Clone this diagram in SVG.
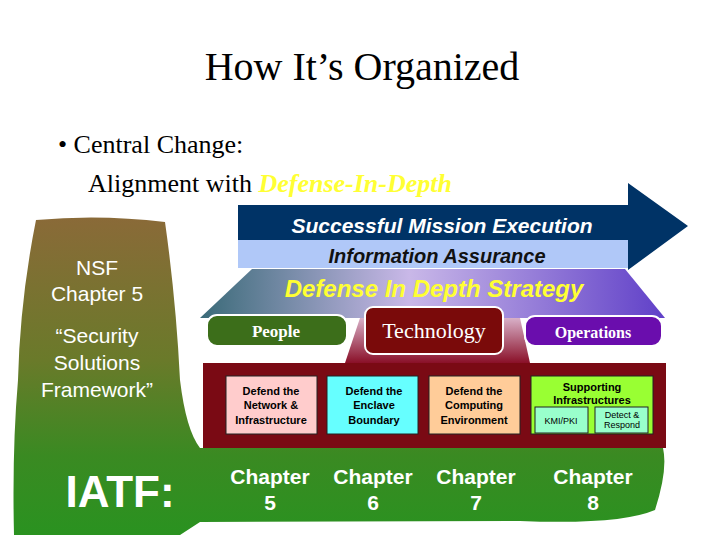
<svg xmlns="http://www.w3.org/2000/svg" width="720" height="540" viewBox="0 0 720 540">
<defs>
<linearGradient id="lg" x1="0" y1="0" x2="0" y2="1"><stop offset="0" stop-color="#8a6a38"/><stop offset="0.45" stop-color="#6a7a2a"/><stop offset="0.75" stop-color="#3a8a22"/><stop offset="1" stop-color="#2a9220"/></linearGradient>
<linearGradient id="tg" x1="0" y1="0" x2="1" y2="0"><stop offset="0" stop-color="#3a6a78"/><stop offset="0.45" stop-color="#c9b8e8"/><stop offset="1" stop-color="#6040c8"/></linearGradient>
<linearGradient id="mg" x1="0" y1="0" x2="0" y2="1"><stop offset="0" stop-color="#d8b0c8"/><stop offset="1" stop-color="#8a1028"/></linearGradient>
</defs>
<style>
.s{font-family:"Liberation Serif",serif}
.a{font-family:"Liberation Sans",Arial,sans-serif}
.w{fill:#fff}
.b{font-family:"Liberation Sans",Arial,sans-serif;font-weight:bold;font-size:11px;text-anchor:middle;fill:#000}
.ib{stroke:#222;stroke-width:1}
</style>
<rect width="720" height="540" fill="#fff"/>
<text class="s" x="362" y="80" font-size="40" text-anchor="middle">How It’s Organized</text>
<text class="s" x="58" y="153" font-size="26">• Central Change:</text>
<text class="s" x="88" y="192" font-size="26">Alignment with <tspan fill="#ffff33" font-style="italic" font-weight="bold">Defense-In-Depth</tspan></text>
<g id="left">
<path d="M36,220 Q100,214 165,222 Q176,300 180,380 Q186,430 200,448 L663,448 Q668,470 655,510 Q620,525 520,521 L200,522 L180,535 L14,535 Q12,450 18,380 Q20,300 36,220 Z" fill="url(#lg)"/>
<text class="a w" x="97" y="275" font-size="21" text-anchor="middle">NSF</text>
<text class="a w" x="97" y="301" font-size="21" text-anchor="middle">Chapter 5</text>
<text class="a w" x="97" y="343" font-size="21" text-anchor="middle">“Security</text>
<text class="a w" x="97" y="370" font-size="21" text-anchor="middle">Solutions</text>
<text class="a w" x="97" y="397" font-size="21" text-anchor="middle">Framework”</text>
<text class="a w" x="120" y="507" font-size="44" font-weight="bold" text-anchor="middle">IATF:</text>
</g>
<g id="arrow">
<path d="M238,205 L628,205 L628,183 L688,226 L628,270 L628,240 L238,240 Z" fill="#003366"/>
<rect x="238" y="240" width="390" height="28" fill="#b0c8f8"/>
<text class="a w" x="442" y="233" font-size="21" font-weight="bold" font-style="italic" text-anchor="middle">Successful Mission Execution</text>
<text class="a" x="437" y="263" font-size="20" font-weight="bold" font-style="italic" text-anchor="middle" fill="#111">Information Assurance</text>
</g>
<g id="strategy">
<path d="M252,269 L625,269 L665,318 L200,318 Z" fill="url(#tg)"/>
<path d="M360,318 L520,318 L530,363 L345,363 Z" fill="url(#mg)"/>
<text class="a" x="434" y="297" font-size="24" font-weight="bold" font-style="italic" text-anchor="middle" fill="#ffff33">Defense In Depth Strategy</text>
</g>
<g id="people"><rect x="207" y="315" width="140" height="31" rx="10" fill="#3c6e1a" stroke="#fff" stroke-width="2"/><text class="s w" x="276" y="337" font-size="17" font-weight="bold" text-anchor="middle">People</text></g>
<g id="technology"><rect x="365" y="307" width="138" height="47" rx="8" fill="#7a0a0a" stroke="#fff" stroke-width="2"/><text class="s w" x="434" y="338" font-size="22" text-anchor="middle">Technology</text></g>
<g id="operations"><rect x="525" y="316" width="137" height="30" rx="10" fill="#6a0dad" stroke="#fff" stroke-width="2"/><text class="s w" x="593" y="338" font-size="16" font-weight="bold" text-anchor="middle">Operations</text></g>
<g id="techbox">
<rect x="203" y="363" width="463" height="85" fill="#7a0a14"/>
<rect class="ib" x="226" y="376" width="91" height="58" fill="#ffcccc"/>
<text class="b" x="271" y="395">Defend the</text><text class="b" x="271" y="409">Network &amp;</text><text class="b" x="271" y="424">Infrastructure</text>
<rect class="ib" x="327" y="376" width="91" height="58" fill="#66ffff"/>
<text class="b" x="374" y="395">Defend the</text><text class="b" x="374" y="409">Enclave</text><text class="b" x="374" y="424">Boundary</text>
<rect class="ib" x="429" y="376" width="91" height="58" fill="#ffcc99"/>
<text class="b" x="474" y="395">Defend the</text><text class="b" x="474" y="409">Computing</text><text class="b" x="474" y="424">Environment</text>
<rect class="ib" x="531" y="376" width="122" height="58" fill="#99ff33"/>
<text class="b" x="592" y="391">Supporting</text><text class="b" x="592" y="404">Infrastructures</text>
<rect class="ib" x="535" y="407" width="53" height="26" fill="#99ffcc"/>
<text class="a" x="561" y="424" font-size="9" text-anchor="middle">KMI/PKI</text>
<rect class="ib" x="595" y="407" width="53" height="26" fill="#99ffcc"/>
<text class="a" x="622" y="418" font-size="9" text-anchor="middle">Detect &amp;</text><text class="a" x="622" y="428" font-size="9" text-anchor="middle">Respond</text>
</g>
<g id="chapters" class="a w" font-size="21" font-weight="bold" text-anchor="middle">
<text x="270" y="484">Chapter</text><text x="270" y="510">5</text>
<text x="373" y="484">Chapter</text><text x="373" y="510">6</text>
<text x="476" y="484">Chapter</text><text x="476" y="510">7</text>
<text x="593" y="484">Chapter</text><text x="593" y="510">8</text>
</g>
</svg>
